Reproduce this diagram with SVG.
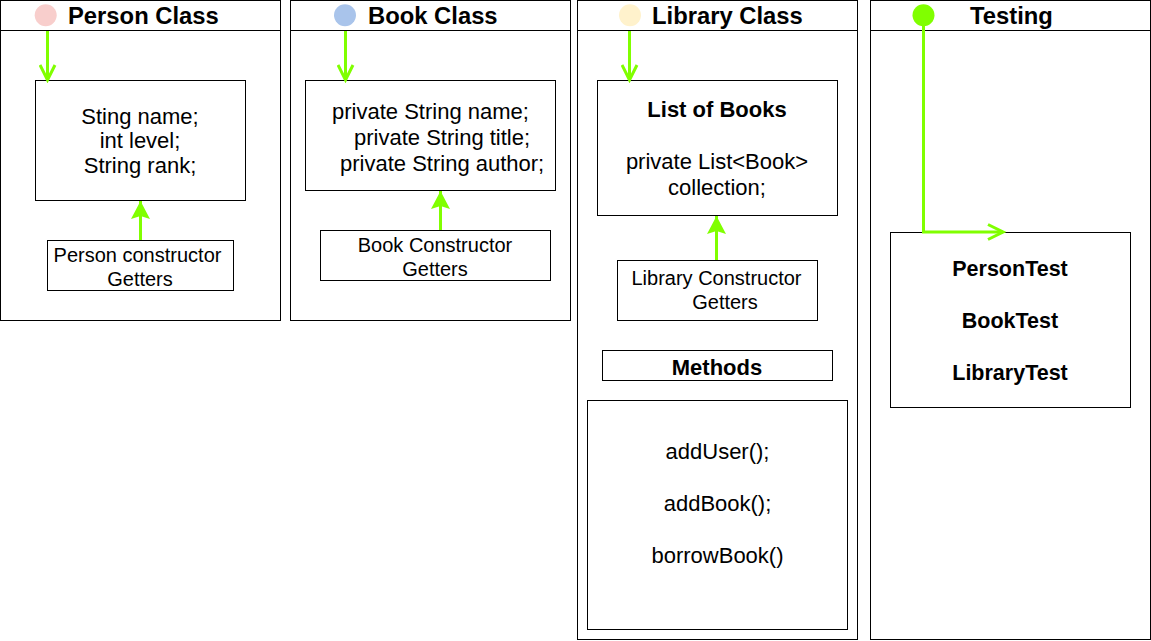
<svg xmlns="http://www.w3.org/2000/svg" width="1151" height="641" viewBox="0 0 1151 641">
<style>
.lane{fill:#fff;stroke:#000;stroke-width:1}
.box{fill:#fff;stroke:#000;stroke-width:1}
.hdr{font-family:"Liberation Sans",Arial,Helvetica,sans-serif;font-weight:bold;font-size:23.8px;fill:#000}
.t{font-family:"Liberation Sans",Arial,Helvetica,sans-serif;font-size:22px;fill:#000}
.s{font-family:"Liberation Sans",Arial,Helvetica,sans-serif;font-size:20px;fill:#000}
.b{font-family:"Liberation Sans",Arial,Helvetica,sans-serif;font-weight:bold;font-size:22px;fill:#000}
.bt{font-family:"Liberation Sans",Arial,Helvetica,sans-serif;font-weight:bold;font-size:21.5px;fill:#000}
.c{text-anchor:middle}
.edge{fill:none;stroke:#80FF00;stroke-width:3}
</style>
<defs>
<marker id="open" markerUnits="userSpaceOnUse" viewBox="0 0 20 18" markerWidth="20" markerHeight="18" refX="17" refY="9" orient="auto">
<path d="M2,1.5 L17,9 L2,16.5" fill="none" stroke="#80FF00" stroke-width="3"/>
</marker>
<marker id="fill" markerUnits="userSpaceOnUse" viewBox="0 0 20 20" markerWidth="20" markerHeight="20" refX="18" refY="10" orient="auto">
<path d="M0,0.5 L18,10 L0,19.5 L3,10 z" fill="#80FF00"/>
</marker>
</defs>
<rect width="1151" height="641" fill="#fff"/>

<g id="lane-person">
<rect class="lane" x="0.5" y="0.5" width="280" height="320"/>
<line x1="0.5" y1="30.5" x2="280.5" y2="30.5" stroke="#000"/>
<circle cx="45.7" cy="15.3" r="11" fill="#F8CECC"/>
<text class="hdr" x="68" y="23.5">Person Class</text>
</g>
<g id="lane-book">
<rect class="lane" x="290.5" y="0.5" width="280" height="320"/>
<line x1="290.5" y1="30.5" x2="570.5" y2="30.5" stroke="#000"/>
<circle cx="345" cy="15.3" r="11" fill="#A9C4EB"/>
<text class="hdr" x="368" y="23.5">Book Class</text>
</g>
<g id="lane-library">
<rect class="lane" x="577.5" y="0.5" width="280" height="639"/>
<line x1="577.5" y1="30.5" x2="857.5" y2="30.5" stroke="#000"/>
<circle cx="630" cy="15.3" r="11" fill="#FFF2CC"/>
<text class="hdr" x="652" y="23.5">Library Class</text>
</g>
<g id="lane-testing">
<rect class="lane" x="870.5" y="0.5" width="280" height="639"/>
<line x1="870.5" y1="30.5" x2="1150.5" y2="30.5" stroke="#000"/>
<circle cx="923.5" cy="15.3" r="11" fill="#80FF00"/>
<text class="hdr" x="970" y="23.5">Testing</text>
</g>

<g id="person-fields">
<rect class="box" x="35.5" y="80.5" width="210" height="120"/>
<text class="t c" x="140" y="123.5">Sting name;</text>
<text class="t c" x="140" y="148">int level;</text>
<text class="t c" x="140" y="172.5">String rank;</text>
</g>
<g id="person-constructor">
<rect class="box" x="47.5" y="240.5" width="186" height="50"/>
<text class="s c" x="137.5" y="262">Person constructor</text>
<text class="s c" x="140" y="285.5">Getters</text>
</g>

<g id="book-fields">
<rect class="box" x="305.5" y="80.5" width="250" height="110"/>
<text class="t" x="332" y="118.5">private String name;</text>
<text class="t" x="354" y="144.5">private String title;</text>
<text class="t" x="340" y="170.5">private String author;</text>
</g>
<g id="book-constructor">
<rect class="box" x="320.5" y="230.5" width="230" height="50"/>
<text class="s c" x="435" y="252">Book Constructor</text>
<text class="s c" x="435" y="275.5">Getters</text>
</g>

<g id="library-fields">
<rect class="box" x="597.5" y="80.5" width="240" height="135"/>
<text class="b c" x="717" y="117">List of Books</text>
<text class="t c" x="717" y="168.5">private List&lt;Book&gt;</text>
<text class="t c" x="717" y="194.5">collection;</text>
</g>
<g id="library-constructor">
<rect class="box" x="617.5" y="260.5" width="200" height="60"/>
<text class="s c" x="716.5" y="285">Library Constructor</text>
<text class="s c" x="725" y="308.5">Getters</text>
</g>
<g id="methods-title">
<rect class="box" x="602.5" y="350.5" width="230" height="30"/>
<text class="b c" x="717" y="375">Methods</text>
</g>
<g id="methods-list">
<rect class="box" x="587.5" y="400.5" width="260" height="229"/>
<text class="t c" x="717.5" y="459">addUser();</text>
<text class="t c" x="717.5" y="511">addBook();</text>
<text class="t c" x="717.5" y="563">borrowBook()</text>
</g>

<g id="tests">
<rect class="box" x="890.5" y="232.5" width="240" height="175"/>
<text class="bt c" x="1010" y="275.5">PersonTest</text>
<text class="bt c" x="1010" y="327.5">BookTest</text>
<text class="bt c" x="1010" y="379.5">LibraryTest</text>
</g>

<g id="connectors">
<path class="edge" d="M47.5,31 L47.5,80" marker-end="url(#open)"/>
<path class="edge" d="M140.5,240 L140.5,201" marker-end="url(#fill)"/>
<path class="edge" d="M345.5,31 L345.5,80" marker-end="url(#open)"/>
<path class="edge" d="M440.5,230 L440.5,191" marker-end="url(#fill)"/>
<path class="edge" d="M629.5,31 L629.5,80" marker-end="url(#open)"/>
<path class="edge" d="M716.5,260 L716.5,216" marker-end="url(#fill)"/>
<path class="edge" d="M923.5,26 L923.5,232 L1003,232" marker-end="url(#open)"/>
</g>
</svg>
